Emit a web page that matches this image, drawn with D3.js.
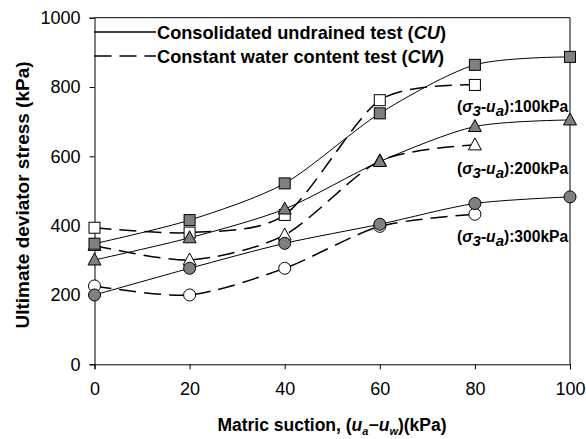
<!DOCTYPE html>
<html>
<head>
<meta charset="utf-8">
<script src="https://cdn.jsdelivr.net/npm/d3@7"></script>
<style>
  html, body { margin: 0; padding: 0; background: #fff; }
  svg { display: block; font-family: "Liberation Sans", Arial, sans-serif; }
</style>
</head>
<body>
<svg id="chart" width="586" height="439"></svg>
<script>
// Matric suction (kPa)
const suction = [0, 20, 40, 60, 80, 100];
const suctionCW = [0, 20, 40, 60, 80];

// Ultimate deviator stress (kPa), consolidated undrained (CU)
const cu100 = [348, 416, 522, 724, 864, 887];
const cu200 = [301, 365, 448, 585, 686, 705];
const cu300 = [200, 277, 349, 404, 464, 483];

// Ultimate deviator stress (kPa), constant water content (CW)
const cw100 = [394, 380, 431, 762, 806];
const cw200 = [343, 301, 373, 587, 633];
const cw300 = [226, 200, 277, 398, 433];

const yTicks = [0, 200, 400, 600, 800, 1000];
const xTicks = [0, 20, 40, 60, 80, 100];
const netStress = ["100", "200", "300"];

const svg = d3.select("#chart");
const x = d3.scaleLinear().domain([0, 100]).range([94.5, 570]);
const y = d3.scaleLinear().domain([0, 1000]).range([364.3, 17.7]);

// frame
svg.append("line").attr("x1", x(0)).attr("x2", x(100)).attr("y1", y(1000)).attr("y2", y(1000))
  .attr("stroke", "#000").attr("stroke-width", 1);
svg.append("line").attr("x1", x(100)).attr("x2", x(100)).attr("y1", y(1000)).attr("y2", y(0))
  .attr("stroke", "#000").attr("stroke-width", 1);

const yAxis = svg.append("g").attr("transform", `translate(${x(0)},0)`)
  .call(d3.axisLeft(y).tickValues(yTicks).tickSize(5).tickPadding(9).tickFormat(d3.format("d")));
const xAxis = svg.append("g").attr("transform", `translate(0,${y(0)})`)
  .call(d3.axisBottom(x).tickValues(xTicks).tickSize(5).tickPadding(13).tickFormat(d3.format("d")));
[yAxis, xAxis].forEach(g => {
  g.select(".domain").attr("stroke", "#000");
  g.selectAll(".tick line").attr("stroke", "#000");
  g.selectAll("text").attr("font-size", 18).attr("fill", "#000")
    .attr("font-family", "'Liberation Sans', Arial, sans-serif");
});

const curve = d3.curveCardinal.tension(0.2);
const line = d3.line().x(d => x(d[0])).y(d => y(d[1])).curve(curve);

const cuSeries = [cu100, cu200, cu300];
const cwSeries = [cw100, cw200, cw300];
const shapes = ["square", "triangle", "circle"];
const grey = "#808080";

// lines first
cwSeries.forEach(vals => {
  svg.append("path").datum(suctionCW.map((s, i) => [s, vals[i]]))
    .attr("d", line).attr("fill", "none").attr("stroke", "#000")
    .attr("stroke-width", 1.5).attr("stroke-dasharray", "17,8");
});
cuSeries.forEach(vals => {
  svg.append("path").datum(suction.map((s, i) => [s, vals[i]]))
    .attr("d", line).attr("fill", "none").attr("stroke", "#000").attr("stroke-width", 1);
});

function drawMarkers(xs, vals, shape, fill) {
  const g = svg.append("g");
  xs.forEach((s, i) => {
    const cx = x(s), cy = y(vals[i]);
    if (shape === "square") {
      g.append("rect").attr("x", cx - 5.5).attr("y", cy - 5.5).attr("width", 11).attr("height", 11)
        .attr("fill", fill).attr("stroke", "#000").attr("stroke-width", 1);
    } else if (shape === "circle") {
      g.append("circle").attr("cx", cx).attr("cy", cy).attr("r", 6)
        .attr("fill", fill).attr("stroke", "#000").attr("stroke-width", 1);
    } else {
      g.append("path").attr("d", `M${cx},${cy - 7}L${cx + 6.5},${cy + 5}L${cx - 6.5},${cy + 5}Z`)
        .attr("fill", fill).attr("stroke", "#000").attr("stroke-width", 1);
    }
  });
}
cwSeries.forEach((vals, k) => drawMarkers(suctionCW, vals, shapes[k], "#fff"));
cuSeries.forEach((vals, k) => drawMarkers(suction, vals, shapes[k], grey));

// legend
const legend = [
  { pre: "Consolidated undrained test (", it: "CU", post: ")", dash: null, yy: 32 },
  { pre: "Constant water content test (", it: "CW", post: ")", dash: "17,8", yy: 56 }
];
legend.forEach(l => {
  svg.append("line").attr("x1", x(0)).attr("x2", 156).attr("y1", l.yy).attr("y2", l.yy)
    .attr("stroke", "#000").attr("stroke-width", 1.5)
    .attr("stroke-dasharray", l.dash);
  const t = svg.append("text").attr("x", 157).attr("y", l.yy + 6.5)
    .attr("font-size", 18.2).attr("font-weight", "bold").attr("fill", "#000");
  t.append("tspan").text(l.pre);
  t.append("tspan").attr("font-style", "italic").text(l.it);
  t.append("tspan").text(l.post);
});

// confining stress labels
const labelY = [112, 174, 242];
netStress.forEach((v, i) => {
  const t = svg.append("text").attr("x", 457).attr("y", labelY[i])
    .attr("font-size", 15.6).attr("font-weight", "bold").attr("fill", "#000");
  t.append("tspan").text("(");
  t.append("tspan").attr("font-style", "italic").text("σ");
  t.append("tspan").attr("font-style", "italic").attr("font-size", 15).attr("dy", 4).text("3");
  t.append("tspan").attr("dy", -4).text("-");
  t.append("tspan").attr("font-style", "italic").text("u");
  t.append("tspan").attr("font-style", "italic").attr("font-size", 15).attr("dy", 4).text("a");
  t.append("tspan").attr("dy", -4).text(`):${v}kPa`);
});

// axis titles
svg.append("text").attr("transform", "translate(29,195) rotate(-90)")
  .attr("text-anchor", "middle").attr("font-size", 19).attr("font-weight", "bold").attr("fill", "#000")
  .text("Ultimate deviator stress (kPa)");

const xt = svg.append("text").attr("x", 332).attr("y", 431).attr("text-anchor", "middle")
  .attr("font-size", 17.5).attr("font-weight", "bold").attr("fill", "#000");
xt.append("tspan").text("Matric suction, (");
xt.append("tspan").attr("font-style", "italic").text("u");
xt.append("tspan").attr("font-style", "italic").attr("font-size", 11).attr("dy", 4).text("a");
xt.append("tspan").attr("dy", -4).text("−");
xt.append("tspan").attr("font-style", "italic").text("u");
xt.append("tspan").attr("font-style", "italic").attr("font-size", 11).attr("dy", 4).text("w");
xt.append("tspan").attr("dy", -4).text(")(kPa)");
</script>
</body>
</html>
